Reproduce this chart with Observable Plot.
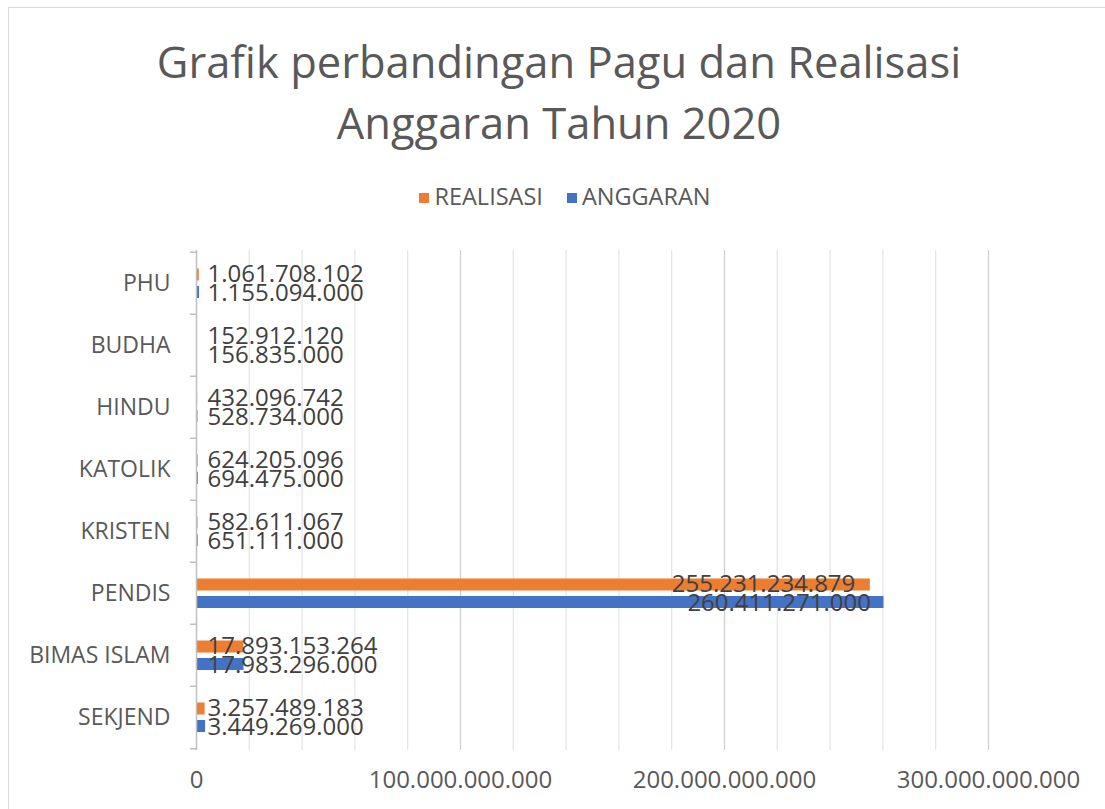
<!DOCTYPE html>
<html>
<head>
<meta charset="utf-8">
<script src="https://cdn.jsdelivr.net/npm/d3@7"></script>
<script src="https://cdn.jsdelivr.net/npm/@observablehq/plot@0.6"></script>
<style>
  html, body { margin: 0; padding: 0; background: #fff; width: 1105px; height: 809px; overflow: hidden; font-family: "Open Sans", sans-serif; }
  #frame { position: absolute; left: 8px; top: 7px; width: 1110px; height: 820px; border: 1.5px solid #d9d9d9; box-sizing: border-box; }
  #title { position: absolute; left: 0; width: 1118px; top: 31px; text-align: center; color: #595959; font-size: 43.5px; line-height: 61px; }
  #legend { position: absolute; left: 0; width: 1130px; top: 180px; text-align: center; color: #595959; font-size: 23.5px; line-height: 32px; }
  #legend span.item { display: inline-block; margin: 0 12px; }
  #legend span.sw { display: inline-block; width: 10px; height: 10px; margin-right: 5px; vertical-align: 2px; }
  #chart { position: absolute; left: 0; top: 230px; }
</style>
</head>
<body>
<div id="frame"></div>
<div id="title">Grafik perbandingan Pagu dan Realisasi<br>Anggaran Tahun 2020</div>
<div id="legend"></div>
<div id="chart"></div>
<script>
const categories = ["PHU", "BUDHA", "HINDU", "KATOLIK", "KRISTEN", "PENDIS", "BIMAS ISLAM", "SEKJEND"];
const realisasi = [1061708102, 152912120, 432096742, 624205096, 582611067, 255231234879, 17893153264, 3257489183];
const anggaran = [1155094000, 156835000, 528734000, 694475000, 651111000, 260411271000, 17983296000, 3449269000];
const seriesNames = ["REALISASI", "ANGGARAN"];
const seriesColors = ["#ED7D31", "#4472C4"];
const xTickValues = [0, 100000000000, 200000000000, 300000000000];
const xMinorGrid = [20e9, 40e9, 60e9, 80e9, 120e9, 140e9, 160e9, 180e9, 220e9, 240e9, 260e9, 280e9];

const idLocale = d3.formatLocale({decimal: ",", thousands: ".", grouping: [3], currency: ["Rp", ""]});
const fmt = idLocale.format(",d");

const rows = [];
categories.forEach((c, i) => {
  rows.push({category: c, series: seriesNames[0], value: realisasi[i]});
  rows.push({category: c, series: seriesNames[1], value: anggaran[i]});
});

// legend
const legend = document.getElementById("legend");
seriesNames.forEach((s, i) => {
  const it = document.createElement("span");
  it.className = "item";
  it.innerHTML = `<span class="sw" style="background:${seriesColors[i]}"></span>${s}`;
  legend.appendChild(it);
});

const width = 1105, height = 579, marginTop = 20, marginBottom = 59, marginLeft = 196, marginRight = 117;
const step = (height - marginTop - marginBottom) / categories.length;
const bigThreshold = 100e9;

const real = rows.filter(d => d.series === seriesNames[0]);
const angg = rows.filter(d => d.series === seriesNames[1]);

const chart = Plot.plot({
  width, height, marginTop, marginBottom, marginLeft, marginRight,
  style: {fontFamily: "'Open Sans', sans-serif", fontSize: "23px", color: "#595959", background: "transparent"},
  x: {domain: [0, 300e9], axis: null},
  y: {domain: categories, padding: 0, axis: null},
  marks: [
    Plot.ruleX(xMinorGrid, {stroke: "#e6e6e6", strokeWidth: 1.3}),
    Plot.ruleX(xTickValues.slice(1), {stroke: "#cfcfcf", strokeWidth: 1.3}),
    Plot.barX(real, {x: "value", y: "category", fill: seriesColors[0], insetTop: 16.5, insetBottom: 33.5}),
    Plot.barX(angg, {x: "value", y: "category", fill: seriesColors[1], insetTop: 34, insetBottom: 16}),
    Plot.ruleX([0], {stroke: "#bfbfbf", strokeWidth: 1.5}),
    Plot.ruleY(categories, {y: d => d, x1: 0, x2: 0, insetLeft: -6, dy: -step / 2, stroke: "#bfbfbf", strokeWidth: 1.5}),
    Plot.ruleY(categories.slice(-1), {y: d => d, x1: 0, x2: 0, insetLeft: -6, dy: step / 2, stroke: "#bfbfbf", strokeWidth: 1.5}),
    // data labels: small values start near the axis, large values end inside the bar
    Plot.text(real.filter(d => d.value < bigThreshold), {x: 0, y: "category", text: d => fmt(d.value), textAnchor: "start", dx: 11, dy: -9, fill: "#404040", fontSize: 24}),
    Plot.text(angg.filter(d => d.value < bigThreshold), {x: 0, y: "category", text: d => fmt(d.value), textAnchor: "start", dx: 11, dy: 9.5, fill: "#404040", fontSize: 24}),
    Plot.text(real.filter(d => d.value >= bigThreshold), {x: "value", y: "category", text: d => fmt(d.value), textAnchor: "end", dx: -15, dy: -9, fill: "#404040", fontSize: 24}),
    Plot.text(angg.filter(d => d.value >= bigThreshold), {x: "value", y: "category", text: d => fmt(d.value), textAnchor: "end", dx: -13, dy: 9.5, fill: "#404040", fontSize: 24}),
    Plot.axisY(categories, {tickSize: 0, tickPadding: 26, label: null, fill: "#595959"}),
    Plot.axisX(xTickValues, {tickSize: 0, tickPadding: 20, label: null, tickFormat: fmt, fill: "#595959", fontSize: 24})
  ]
});
document.getElementById("chart").appendChild(chart);
</script>
</body>
</html>
